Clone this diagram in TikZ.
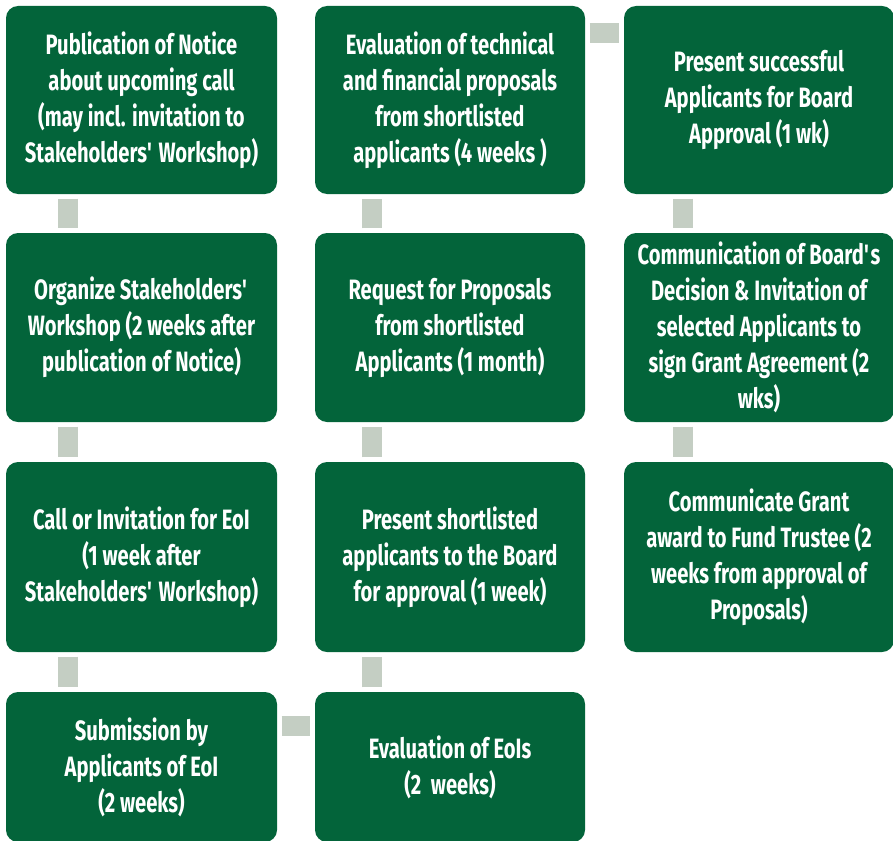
\documentclass[tikz,border=0pt]{standalone}
\usepackage{fontspec}
\setmainfont{Fira Sans}[FakeStretch=0.72]
\usepackage{tikz}
\definecolor{boxgreen}{RGB}{3,100,58}
\definecolor{linkgray}{RGB}{196,206,195}

\begin{document}
\begin{tikzpicture}[x=1pt,y=-1pt,
		box/.style={rectangle,rounded corners=12pt,fill=boxgreen,text=white,
			minimum width=270pt,minimum height=188pt,inner sep=0pt,align=center,
			font=\fontsize{28}{36}\selectfont\bfseries},
		link/.style={draw=linkgray,line width=20pt,shorten <=4.5pt,shorten >=4.5pt}]
	\useasboundingbox (0,0) rectangle (893,840);
	% column 1
	\node[box,minimum width=271pt] (pub) at (141.5,100) {Publication of Notice\\about upcoming call\\(may incl. invitation to\\Stakeholders\textquotesingle{} Workshop)};
	\node[box,minimum width=271pt,minimum height=189pt] (org) at (141.5,327.5) {Organize Stakeholders\textquotesingle\\Workshop (2 weeks after\\publication of Notice)};
	\node[box,minimum width=271pt,minimum height=190pt] (call) at (141.5,557) {Call or Invitation for EoI\\(1 week after\\Stakeholders\textquotesingle{} Workshop)};
	\node[box,minimum width=271pt,minimum height=150pt] (sub) at (141.5,767) {Submission by\\Applicants of EoI\\(2 weeks)};
	% column 2
	\node[box] (evalp) at (450,100) {Evaluation of technical\\and financial proposals\\from shortlisted\\applicants (4 weeks )};
	\node[box,minimum height=189pt] (rfp) at (450,327.5) {Request for Proposals\\from shortlisted\\Applicants (1 month)};
	\node[box,minimum height=190pt] (short) at (450,557) {Present shortlisted\\applicants to the Board\\for approval (1 week)};
	\node[box,minimum height=150pt] (evale) at (450,767) {Evaluation of EoIs\\(2~ weeks)};
	% column 3
	\node[box] (board) at (759,100) {Present successful\\Applicants for Board\\Approval (1 wk)};
	\node[box,minimum height=189pt] (comm) at (759,327.5) {Communication of Board\textquotesingle s\\Decision \& Invitation of\\selected Applicants to\\sign Grant Agreement (2\\wks)};
	\node[box,minimum height=190pt] (grant) at (759,557) {Communicate Grant\\award to Fund Trustee (2\\weeks from approval of\\Proposals)};

	\draw[link] ([xshift=62pt]pub.south west) -- ([xshift=62pt]org.north west);
	\draw[link] ([xshift=62pt]org.south west) -- ([xshift=62pt]call.north west);
	\draw[link] ([xshift=62pt]call.south west) -- ([xshift=62pt]sub.north west);
	\draw[link] ([yshift=-34pt]sub.north east) -- ([yshift=-34pt]evale.north west);
	\draw[link] ([xshift=57pt]evale.north west) -- ([xshift=57pt]short.south west);
	\draw[link] ([xshift=57pt]short.north west) -- ([xshift=57pt]rfp.south west);
	\draw[link] ([xshift=57pt]rfp.north west) -- ([xshift=57pt]evalp.south west);
	\draw[link] ([yshift=-27.5pt]evalp.north east) -- ([yshift=-27.5pt]board.north west);
	\draw[link] ([xshift=59pt]board.south west) -- ([xshift=59pt]comm.north west);
	\draw[link] ([xshift=59pt]comm.south west) -- ([xshift=59pt]grant.north west);
\end{tikzpicture}
\end{document}
